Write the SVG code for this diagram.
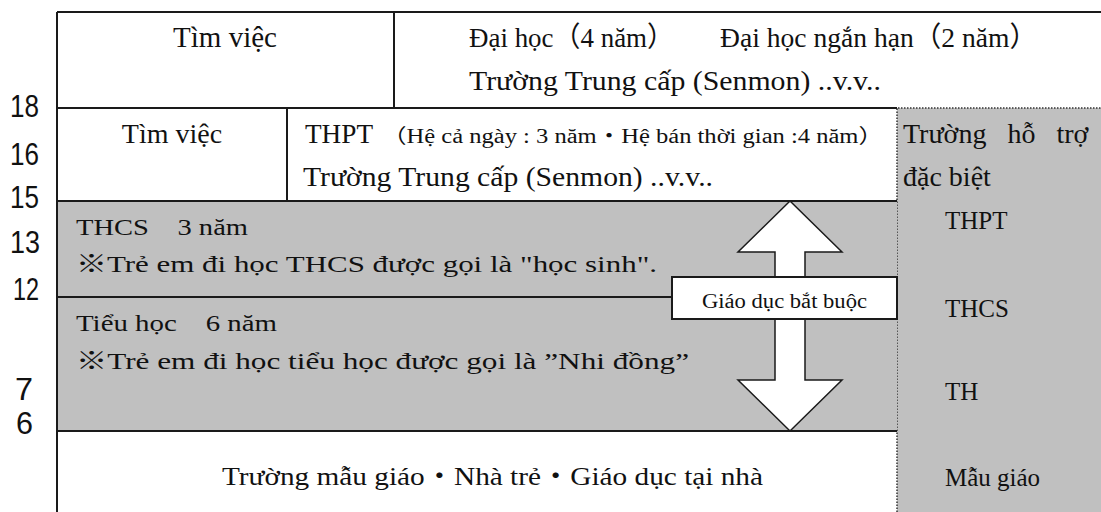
<svg xmlns="http://www.w3.org/2000/svg" width="1101" height="512" viewBox="0 0 1101 512">
<style>
.t{font-family:"Liberation Serif","Noto Sans CJK JP",serif;fill:#111}
.n{font-family:"Liberation Sans","Noto Sans",sans-serif;font-size:32px;fill:#111}
.ln{stroke:#1a1a1a;stroke-width:2;fill:none}
.dot{stroke:#333;stroke-width:1.5;stroke-dasharray:1.5 1.5;fill:none}
.gray{fill:#c0c0c0}
</style>
<rect width="1101" height="512" fill="#fff"/>
<g id="ages">
<text class="n" x="10" y="117" textLength="29" lengthAdjust="spacingAndGlyphs">18</text>
<text class="n" x="10" y="165" textLength="29" lengthAdjust="spacingAndGlyphs">16</text>
<text class="n" x="10" y="208" textLength="29" lengthAdjust="spacingAndGlyphs">15</text>
<text class="n" x="10" y="253" textLength="30" lengthAdjust="spacingAndGlyphs">13</text>
<text class="n" x="13" y="300" textLength="26" lengthAdjust="spacingAndGlyphs">12</text>
<text class="n" x="15" y="400" textLength="18" lengthAdjust="spacingAndGlyphs">7</text>
<text class="n" x="16" y="434" textLength="17" lengthAdjust="spacingAndGlyphs">6</text>
</g>
<g id="special-support">
<rect class="gray" x="897" y="108" width="204" height="404"/>
<path class="dot" d="M897,512 V108 H1101"/>
<text class="t" x="903" y="143" font-size="28" word-spacing="14">Trường hỗ trợ</text>
<text class="t" x="903" y="186" font-size="28">đặc biệt</text>
<text class="t" x="945" y="229" font-size="25">THPT</text>
<text class="t" x="945" y="317" font-size="25">THCS</text>
<text class="t" x="945" y="400" font-size="25">TH</text>
<text class="t" x="945" y="486" font-size="25">Mẫu giáo</text>
</g>
<g id="thcs">
<rect class="gray" x="57" y="201" width="840" height="96"/>
<text class="t" x="76" y="235" font-size="23" textLength="172" lengthAdjust="spacingAndGlyphs">THCS　3 năm</text>
<text class="t" x="76" y="272" font-size="24" textLength="581" lengthAdjust="spacingAndGlyphs">※Trẻ em đi học THCS được gọi là "học sinh".</text>
</g>
<g id="tieu-hoc">
<rect class="gray" x="57" y="297" width="840" height="134"/>
<text class="t" x="76" y="331" font-size="23" textLength="201" lengthAdjust="spacingAndGlyphs">Tiểu học　6 năm</text>
<text class="t" x="76" y="369" font-size="24" textLength="613" lengthAdjust="spacingAndGlyphs">※Trẻ em đi học tiểu học được gọi là ”Nhi đồng”</text>
</g>
<g id="job-top">
<text class="t" x="225" y="47" font-size="29" text-anchor="middle">Tìm việc</text>
</g>
<g id="university">
<text class="t" y="47" font-size="28"><tspan x="469" textLength="205" lengthAdjust="spacingAndGlyphs">Đại học（4 năm）</tspan><tspan x="720" textLength="317" lengthAdjust="spacingAndGlyphs">Đại học ngắn hạn（2 năm）</tspan></text>
<text class="t" x="469" y="90" font-size="28" textLength="412" lengthAdjust="spacingAndGlyphs">Trường Trung cấp (Senmon) ..v.v..</text>
</g>
<g id="job-mid">
<text class="t" x="172" y="143" font-size="28" text-anchor="middle">Tìm việc</text>
</g>
<g id="thpt">
<text class="t" y="143" font-size="28"><tspan x="305" textLength="68" lengthAdjust="spacingAndGlyphs">THPT</tspan><tspan x="382" font-size="20" textLength="501" lengthAdjust="spacingAndGlyphs">（Hệ cả ngày : 3 năm・Hệ bán thời gian :4 năm）</tspan></text>
<text class="t" x="303" y="186" font-size="28" textLength="410" lengthAdjust="spacingAndGlyphs">Trường Trung cấp (Senmon) ..v.v..</text>
</g>
<g id="preschool">
<text class="t" x="222" y="485" font-size="26" textLength="541" lengthAdjust="spacingAndGlyphs">Trường mẫu giáo・Nhà trẻ・Giáo dục tại nhà</text>
</g>
<g id="grid">
<path class="ln" d="M57,12 H1101 M57,12 V512 M394,12 V108 M57,108 H897 M287,108 V201 M57,201 H897 M57,297 H672 M57,431 H897"/>
</g>
<g id="connectors">
<polygon points="790,201 842,252 805,252 805,380 842,380 790,431 738,380 775,380 775,252 738,252" fill="#fff" stroke="#1a1a1a" stroke-width="1.5" stroke-linejoin="miter"/>
</g>
<g id="compulsory-label">
<rect x="672" y="277" width="225" height="42" fill="#fff" stroke="#1a1a1a" stroke-width="2"/>
<text class="t" x="702" y="308" font-size="20" textLength="165" lengthAdjust="spacingAndGlyphs">Giáo dục bắt buộc</text>
</g>
</svg>
